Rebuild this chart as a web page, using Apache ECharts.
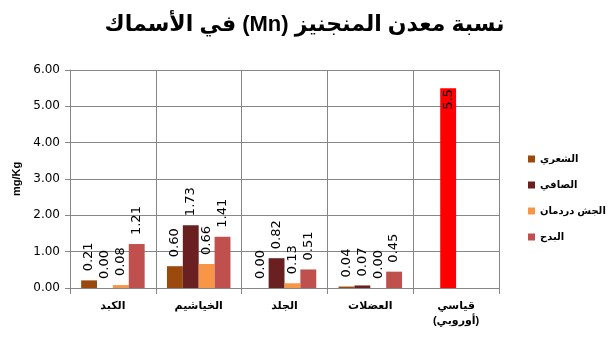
<!DOCTYPE html>
<html><head><meta charset="utf-8">
<script src="https://cdn.jsdelivr.net/npm/echarts@6/dist/echarts.min.js"></script>
<style>html,body{margin:0;padding:0;background:#fff}#c{width:609px;height:337px}</style>
</head><body><div id="c" dir="rtl"></div>
<script>
const categories = ['الكبد', 'الخياشيم', 'الجلد', 'العضلات', 'قياسي\n(أوروبي)'];
const seriesNames = ['الشعري', 'الصافي', 'الجش دردمان', 'البدح'];
const shaari = [0.21, 0.60, 0.00, 0.04, null];
const safi = [0.00, 1.73, 0.82, 0.07, 5.5];
const jash = [0.08, 0.66, 0.13, 0.00, null];
const badah = [1.21, 1.41, 0.51, 0.45, null];
const yTicks = [0, 1, 2, 3, 4, 5, 6];
const colors = ['#9A4A0C', '#6A2020', '#F79646', '#C0504D'];
const standardColor = '#FF0000';

const chart = echarts.init(document.getElementById('c'), null, {renderer: 'canvas'});
const labelBase = {
  show: true, position: 'top', rotate: 90, align: 'left', verticalAlign: 'middle',
  distance: 9, fontFamily: 'DejaVu Sans', fontSize: 13, color: '#000',
  formatter: p => p.value == null ? '' : Number(p.value).toFixed(2)
};
function mk(name, arr, color, idx) {
  return {
    name, type: 'bar', barGap: '0%', barCategoryGap: '26%',
    itemStyle: {color},
    label: labelBase,
    data: arr.map((v, i) => {
      if (idx === 1 && i === 4) {
        return {value: v, itemStyle: {color: standardColor},
          label: {show: true, position: 'insideTop', rotate: 90, align: 'right', verticalAlign: 'middle',
            distance: 1, fontFamily: 'DejaVu Sans', fontSize: 13, color: '#000', formatter: p => String(p.value)}};
      }
      return v;
    })
  };
}
chart.setOption({
  animation: false,
  title: {text: 'نسبة معدن المنجنيز (Mn) في الأسماك', left: 'center', top: 9,
    textStyle: {fontFamily: 'Arial, "DejaVu Sans"', fontSize: 22, fontWeight: 'bold', color: '#000'}},
  legend: {orient: 'vertical', left: 523, top: 149, itemWidth: 7, itemHeight: 7, itemGap: 16,
    icon: 'rect', data: seriesNames,
    textStyle: {fontFamily: 'Arial, "DejaVu Sans"', fontSize: 10, fontWeight: 'bold', color: '#000'}},
  grid: {left: 70, right: 110, top: 70, bottom: 49},
  xAxis: {type: 'category', data: categories,
    axisLine: {lineStyle: {color: '#868686'}},
    axisTick: {show: true, length: 6, lineStyle: {color: '#868686'}},
    splitLine: {show: true, lineStyle: {color: '#868686'}},
    axisLabel: {margin: 10, fontFamily: 'Arial, "DejaVu Sans"', fontSize: 11, fontWeight: 'bold', color: '#000', lineHeight: 15}},
  yAxis: {type: 'value', min: yTicks[0], max: yTicks[yTicks.length - 1], interval: 1,
    name: 'mg/Kg', nameLocation: 'middle', nameGap: 47, nameRotate: 90,
    nameTextStyle: {fontFamily: 'Arial, "DejaVu Sans"', fontSize: 11, fontWeight: 'bold', color: '#000'},
    axisLine: {show: true, lineStyle: {color: '#868686'}},
    axisTick: {show: true, length: 5, lineStyle: {color: '#868686'}},
    splitLine: {show: true, lineStyle: {color: '#868686'}},
    axisLabel: {margin: 10, fontFamily: 'DejaVu Sans', fontSize: 12, color: '#000', formatter: v => v.toFixed(2)}},
  series: [mk(seriesNames[0], shaari, colors[0], 0), mk(seriesNames[1], safi, colors[1], 1),
           mk(seriesNames[2], jash, colors[2], 2), mk(seriesNames[3], badah, colors[3], 3)]
});
</script></body></html>
